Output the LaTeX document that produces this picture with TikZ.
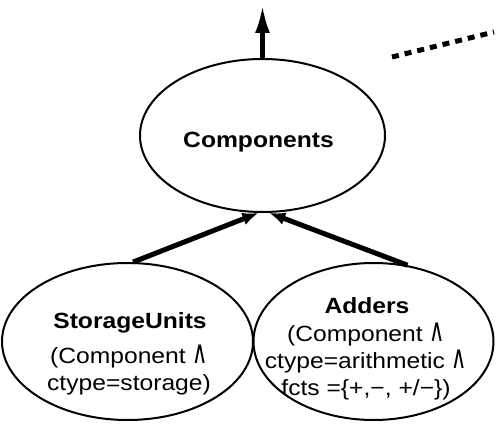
\documentclass[tikz,border=0pt]{standalone}
\usepackage{fontspec}
\setmainfont{Liberation Sans}[FakeStretch=1.12]
\newfontfamily\opfont{DejaVu Sans}
\usetikzlibrary{shapes.geometric,arrows.meta}
% tall, light logical-and sign
\newcommand\andop{\scalebox{0.95}[1.45]{\opfont\fontsize{22}{22}\selectfont ∧}}
\begin{document}
\begin{tikzpicture}[x=1pt,y=-1pt,
  cls/.style={ellipse, draw, line width=2pt, inner sep=0pt},
  clsname/.style={font=\bfseries\fontsize{22}{22}\selectfont, anchor=base, inner sep=0pt},
  clsbody/.style={font=\fontsize{22}{27}\selectfont, align=center, anchor=base, inner sep=0pt},
  isa/.style={line width=5pt, -{Latex[length=16pt,width=13pt]}},
  up/.style={line width=4.5pt, -{Latex[length=28pt,width=15pt]}},
  dotted trail/.style={line width=5pt, dash pattern=on 7pt off 6pt}]
\useasboundingbox (0,0) rectangle (496,425);

% class ellipses
\node[cls, minimum width=245pt, minimum height=153pt] (comp) at (262.5,135.5) {};
\node[cls, minimum width=251pt, minimum height=157pt] (su) at (127.5,341.5) {};
\node[cls, minimum width=240pt, minimum height=157pt] (ad) at (373.5,341.5) {};

% class names and definitions (multi-line nodes sit on their last baseline)
\node[clsname] (compname) at (258.5,148) {Components};
\node[clsname] (suname) at (130,328) {StorageUnits};
\node[clsbody] (subody) at (129,390) {(Component \andop\\ctype=storage)};
\node[clsname] (adname) at (367,313) {Adders};
\node[clsbody] (adbody) at (366,395) {(Component \andop\\ctype=arithmetic \andop\\fcts =\{+,−, +/−\})};

% generalisation links
\coordinate (top) at (262.5,5);
\draw[up] (comp.north) -- (top);
\draw[isa] (su.86) -- (comp.267);
\draw[isa] (ad.66) -- (comp.275);

% trailing dotted line toward further classes
\coordinate (dotA) at (392,57);
\coordinate (dotB) at (494,32);
\draw[dotted trail] (dotA) -- (dotB);
\end{tikzpicture}
\end{document}
